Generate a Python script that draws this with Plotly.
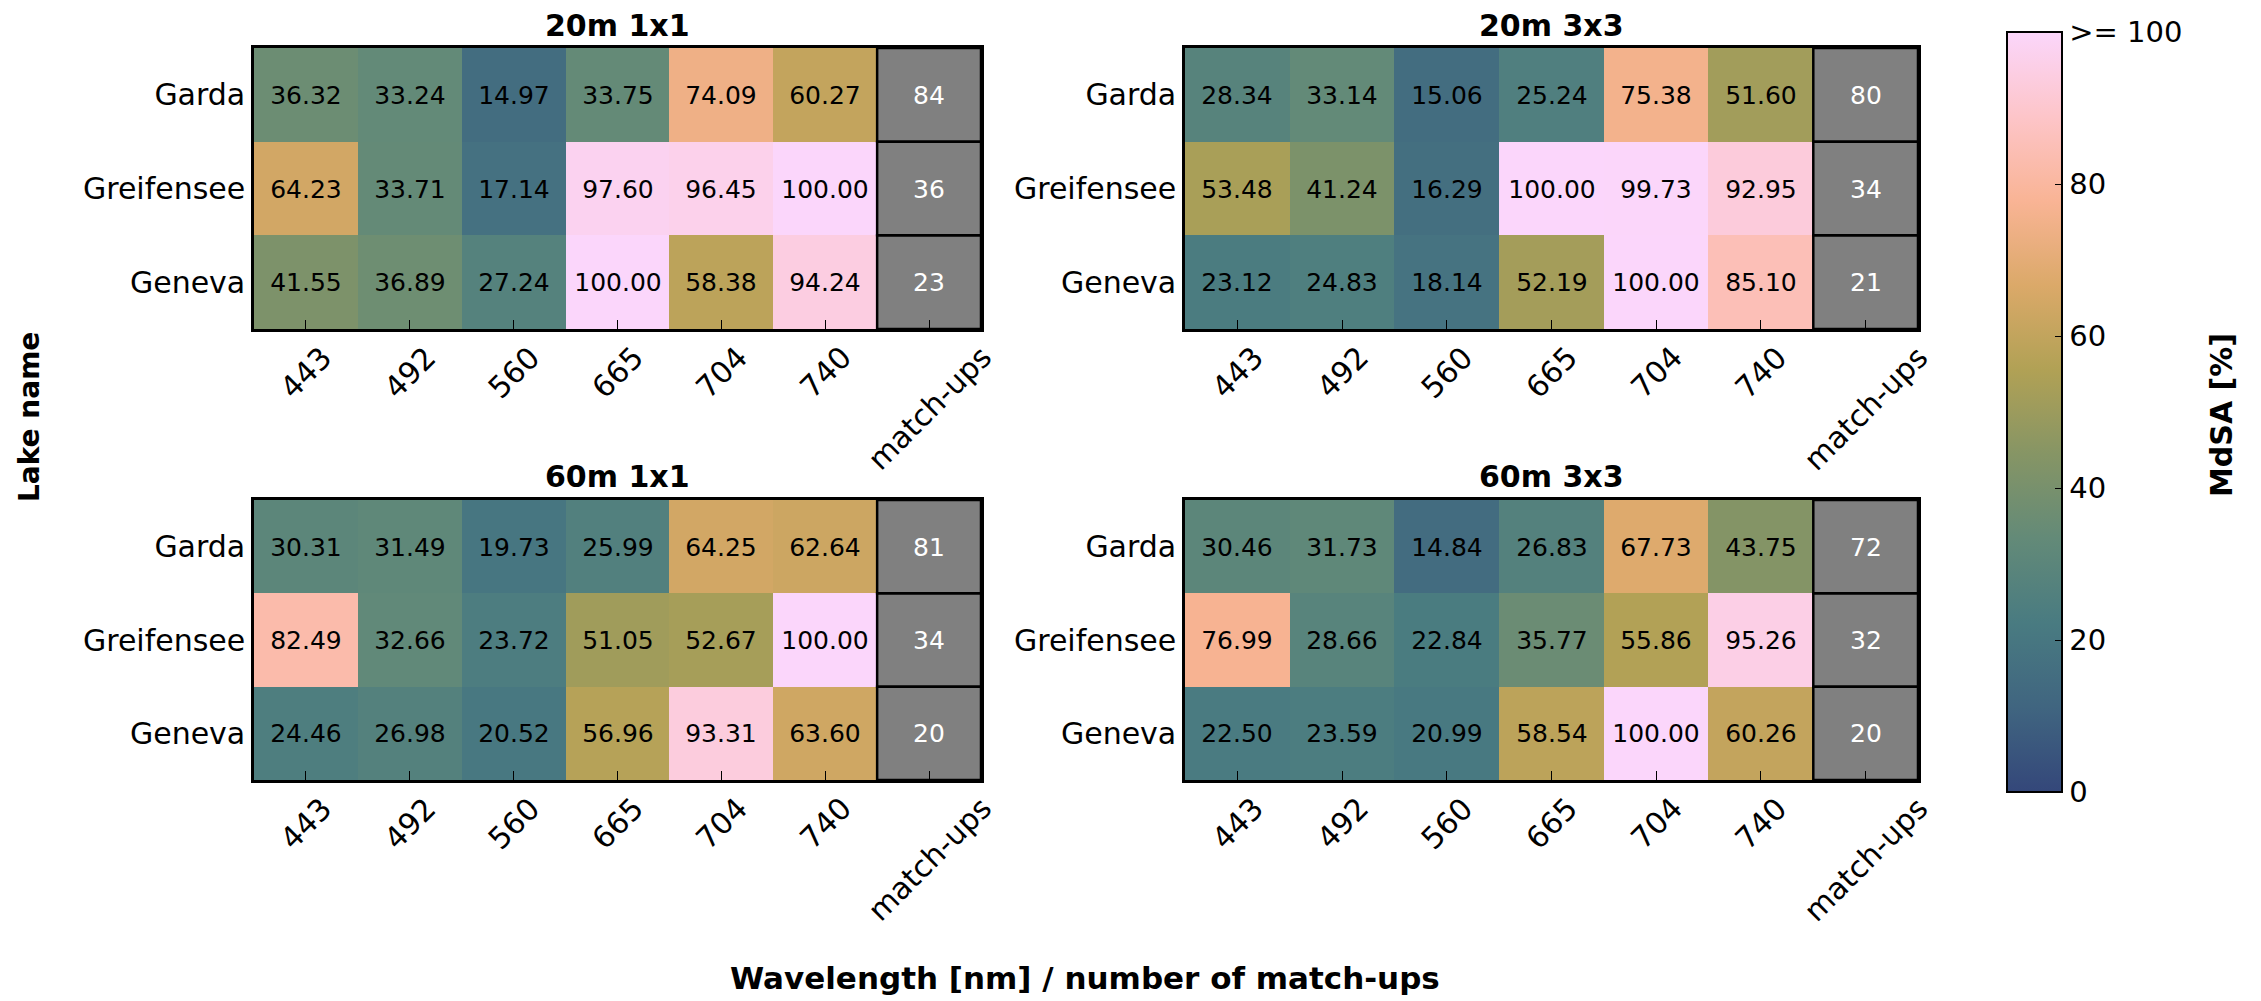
import plotly.graph_objects as go

# ---- data -------------------------------------------------------------
lakes = ["Garda", "Greifensee", "Geneva"]
wavelengths = ["443", "492", "560", "665", "704", "740"]
count_label = "match-ups"

panel_titles = ["20m 1x1", "20m 3x3", "60m 1x1", "60m 3x3"]

mdsa_20m_1x1 = [
    [36.32, 33.24, 14.97, 33.75, 74.09, 60.27],
    [64.23, 33.71, 17.14, 97.60, 96.45, 100.00],
    [41.55, 36.89, 27.24, 100.00, 58.38, 94.24],
]
mdsa_20m_3x3 = [
    [28.34, 33.14, 15.06, 25.24, 75.38, 51.60],
    [53.48, 41.24, 16.29, 100.00, 99.73, 92.95],
    [23.12, 24.83, 18.14, 52.19, 100.00, 85.10],
]
mdsa_60m_1x1 = [
    [30.31, 31.49, 19.73, 25.99, 64.25, 62.64],
    [82.49, 32.66, 23.72, 51.05, 52.67, 100.00],
    [24.46, 26.98, 20.52, 56.96, 93.31, 63.60],
]
mdsa_60m_3x3 = [
    [30.46, 31.73, 14.84, 26.83, 67.73, 43.75],
    [76.99, 28.66, 22.84, 35.77, 55.86, 95.26],
    [22.50, 23.59, 20.99, 58.54, 100.00, 60.26],
]

matchups_20m_1x1 = [84, 36, 23]
matchups_20m_3x3 = [80, 34, 21]
matchups_60m_1x1 = [81, 34, 20]
matchups_60m_3x3 = [72, 32, 20]

cbar_ticks = [0, 20, 40, 60, 80, 100]
cbar_ticktext = ["0", "20", "40", "60", "80", ">= 100"]

# ---- colour map: batlow drawn at 80 % opacity over white -----------------
batlow = ["#011959", "#103F60", "#1C5A62", "#3C6D56", "#687B3E",
          "#9D892B", "#D29343", "#F8A17B", "#FDB7BC", "#FACCFA"]
ALPHA = 0.8


def over_white(hex_col, a=ALPHA):
    h = hex_col.lstrip("#")
    r, g, b = (int(h[i:i + 2], 16) for i in (0, 2, 4))
    mix = lambda c: round(c * a + 255 * (1 - a))
    return f"rgb({mix(r)},{mix(g)},{mix(b)})"


colorscale = [[i / (len(batlow) - 1), over_white(c)] for i, c in enumerate(batlow)]
grey_scale = [[0, "rgb(128,128,128)"], [1, "rgb(128,128,128)"]]

# ---- layout geometry (pixels) -------------------------------------------
W, H = 2261, 1001
FONT = "DejaVu Sans"

col_x = [(254, 981), (1185, 1918)]
row_y = [(48, 329), (500, 780)]

panels = [
    (mdsa_20m_1x1, matchups_20m_1x1, 0, 0),
    (mdsa_20m_3x3, matchups_20m_3x3, 0, 1),
    (mdsa_60m_1x1, matchups_60m_1x1, 1, 0),
    (mdsa_60m_3x3, matchups_60m_3x3, 1, 1),
]

fig = go.Figure()
annotations = []
shapes = []
n_w = len(wavelengths)
x_idx = list(range(n_w))
y_idx = list(range(len(lakes)))

for k, (vals, counts, r, c) in enumerate(panels):
    ax = "" if k == 0 else str(k + 1)
    xref, yref = "x" + ax, "y" + ax

    # MdSA heat cells
    fig.add_trace(go.Heatmap(
        z=vals, x=x_idx, y=y_idx,
        xaxis=xref, yaxis=yref,
        zmin=0, zmax=100, colorscale=colorscale,
        showscale=(k == 0),
        texttemplate="%{z:.2f}",
        textfont=dict(family=FONT, size=25, color="black"),
        hoverinfo="skip",
        colorbar=dict(
            x=2007 / W, xanchor="left", xpad=0,
            y=1 - (32 + 792) / 2 / H, yanchor="middle", ypad=0,
            thickness=55, lenmode="pixels", len=760,
            outlinewidth=2, outlinecolor="black",
            tickvals=cbar_ticks, ticktext=cbar_ticktext,
            ticks="inside", ticklen=8, tickcolor="black",
            tickfont=dict(family=FONT, size=29, color="black"),
        ),
    ))

    # match-up counts column
    fig.add_trace(go.Heatmap(
        z=[[v] for v in counts], x=[n_w], y=y_idx,
        xaxis=xref, yaxis=yref,
        colorscale=grey_scale, showscale=False,
        texttemplate="%{z}",
        textfont=dict(family=FONT, size=25, color="white"),
        hoverinfo="skip",
    ))

    x0, x1 = col_x[c]
    y0, y1 = row_y[r]
    axis_common = dict(showline=True, linecolor="black", linewidth=2.5,
                       mirror=True, showgrid=False, zeroline=False)
    fig.update_layout(**{
        "xaxis" + ax: dict(
            domain=[x0 / W, x1 / W], range=[-0.5, n_w + 0.5],
            tickvals=list(range(n_w + 1)), showticklabels=False,
            ticks="inside", ticklen=9, tickwidth=1.2, tickcolor="black",
            anchor=yref, **axis_common),
        "yaxis" + ax: dict(
            domain=[1 - y1 / H, 1 - y0 / H], range=[len(lakes) - 0.5, -0.5],
            tickvals=y_idx, ticktext=lakes, ticks="",
            tickfont=dict(family=FONT, size=30, color="black"),
            anchor=xref, **axis_common),
    })

    # black frames around the match-up cells
    for i in y_idx:
        shapes.append(dict(type="rect", xref=xref, yref=yref,
                           x0=n_w - 0.5, x1=n_w + 0.5, y0=i - 0.5, y1=i + 0.5,
                           line=dict(color="black", width=2.5)))

    # rotated wavelength / count labels under each column
    for j, lab in enumerate(wavelengths + [count_label]):
        annotations.append(dict(
            x=j, y=0, xref=xref, yref=yref + " domain",
            text=lab, showarrow=False, textangle=-45,
            xanchor="center", yanchor="top", yshift=-8,
            font=dict(family=FONT, size=30, color="black")))

    # panel title
    annotations.append(dict(
        x=(x0 + x1) / 2 / W, y=1 - (y0 - 23) / H, xref="paper", yref="paper",
        text=f"<b>{panel_titles[k]}</b>", showarrow=False,
        xanchor="center", yanchor="middle",
        font=dict(family=FONT, size=30, color="black")))

# shared axis labels and colour bar title
annotations += [
    dict(x=29 / W, y=1 - 417 / H, xref="paper", yref="paper",
         text="<b>Lake name</b>", textangle=-90, showarrow=False,
         xanchor="center", yanchor="middle",
         font=dict(family=FONT, size=28, color="black")),
    dict(x=1085 / W, y=1 - 978 / H, xref="paper", yref="paper",
         text="<b>Wavelength [nm] / number of match-ups</b>", showarrow=False,
         xanchor="center", yanchor="middle",
         font=dict(family=FONT, size=31, color="black")),
    dict(x=2221 / W, y=1 - 415 / H, xref="paper", yref="paper",
         text="<b>MdSA [%]</b>", textangle=-90, showarrow=False,
         xanchor="center", yanchor="middle",
         font=dict(family=FONT, size=30, color="black")),
]

fig.update_layout(
    width=W, height=H,
    margin=dict(l=0, r=0, t=0, b=0),
    paper_bgcolor="white", plot_bgcolor="white",
    annotations=annotations, shapes=shapes,
    showlegend=False,
)

fig.write_html("out.html")
